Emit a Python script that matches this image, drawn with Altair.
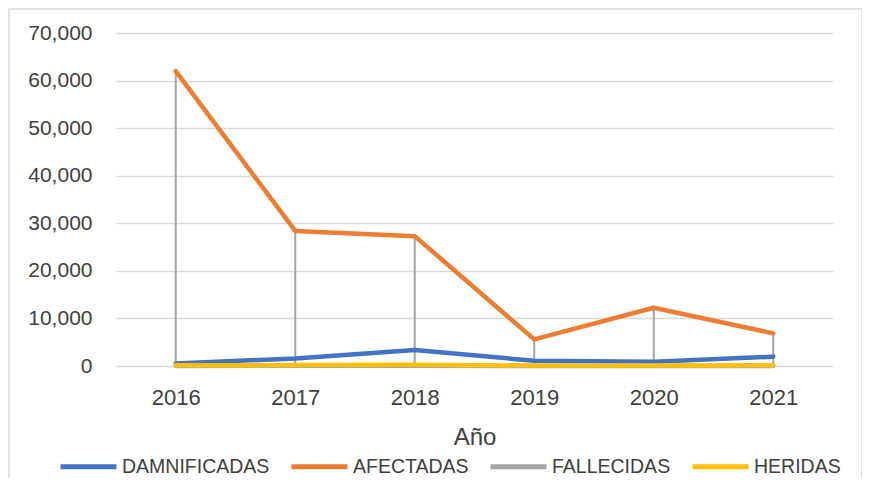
import altair as alt
import pandas as pd

years = ["2016", "2017", "2018", "2019", "2020", "2021"]
damnificadas = [500, 1600, 3350, 1100, 900, 1950]
afectadas = [62000, 28400, 27300, 5600, 12250, 6850]
fallecidas = [20, 30, 40, 15, 10, 25]
heridas = [150, 200, 250, 100, 80, 180]

series_names = ["DAMNIFICADAS", "AFECTADAS", "FALLECIDAS", "HERIDAS"]
series_colors = ["#4472C4", "#ED7D31", "#A5A5A5", "#FFC000"]
series_values = [damnificadas, afectadas, fallecidas, heridas]

rows = []
for name, vals in zip(series_names, series_values):
    for y, v in zip(years, vals):
        rows.append({"year": y, "serie": name, "value": v})
df = pd.DataFrame(rows)

drop = pd.DataFrame({
    "year": years,
    "zero": [0] * len(years),
    "top": [max(vals) for vals in zip(*series_values)],
})

FONT = "Liberation Sans"
TXT = "#404040"

x_enc = alt.X(
    "year:O",
    scale=alt.Scale(type="point", padding=0.5, domain=years),
    axis=alt.Axis(
        title="Año", labelAngle=0, labelFontSize=22, labelColor=TXT, labelFont=FONT,
        labelPadding=21, ticks=False, domain=False, grid=False,
        titleFontSize=24, titleFontWeight="normal", titleColor=TXT, titleFont=FONT,
        titlePadding=17,
    ),
)
y_scale = alt.Scale(domain=[0, 70000])
y_axis = alt.Axis(
    title=None, values=list(range(0, 70001, 10000)), format=",.0f",
    labelFontSize=21, labelColor=TXT, labelFont=FONT, labelPadding=24,
    ticks=False, domain=False, gridColor="#D9D9D9", gridWidth=1.5,
)

color_scale = alt.Scale(domain=series_names, range=series_colors)
legend = alt.Legend(
    title=None, orient="none", direction="horizontal", legendX=-58, legendY=403,
    symbolType="stroke", symbolSize=3136, symbolStrokeWidth=5,
    labelFontSize=19.5, labelColor=TXT, labelFont=FONT, labelOffset=3,
    columnPadding=11,
)

frame = alt.Chart(pd.DataFrame({"f": [0]})).mark_rect(
    fill=None, stroke="#D9D9D9", strokeWidth=1.5
).encode(
    x=alt.value(-107), x2=alt.value(746), y=alt.value(-24), y2=alt.value(460)
)

rules = alt.Chart(drop).mark_rule(color="#A5A5A5", strokeWidth=2).encode(
    x=x_enc,
    y=alt.Y("zero:Q", scale=y_scale, axis=y_axis),
    y2="top:Q",
)

layers = [frame, rules]
for name in series_names:
    layers.append(
        alt.Chart(df).transform_filter(alt.datum.serie == name)
        .mark_line(strokeWidth=4.5, strokeCap="round", strokeJoin="round")
        .encode(
            x=x_enc,
            y=alt.Y("value:Q", scale=y_scale, axis=y_axis),
            color=alt.Color("serie:N", scale=color_scale, legend=legend),
        )
    )

chart = alt.layer(*layers).properties(
    width=717, height=333,
    autosize=alt.AutoSizeParams(type="none"),
    padding={"left": 108, "top": 25, "right": 29, "bottom": 112},
).configure_view(stroke=None)

chart.save("out.html", embed_options={"renderer": "svg", "actions": False})
